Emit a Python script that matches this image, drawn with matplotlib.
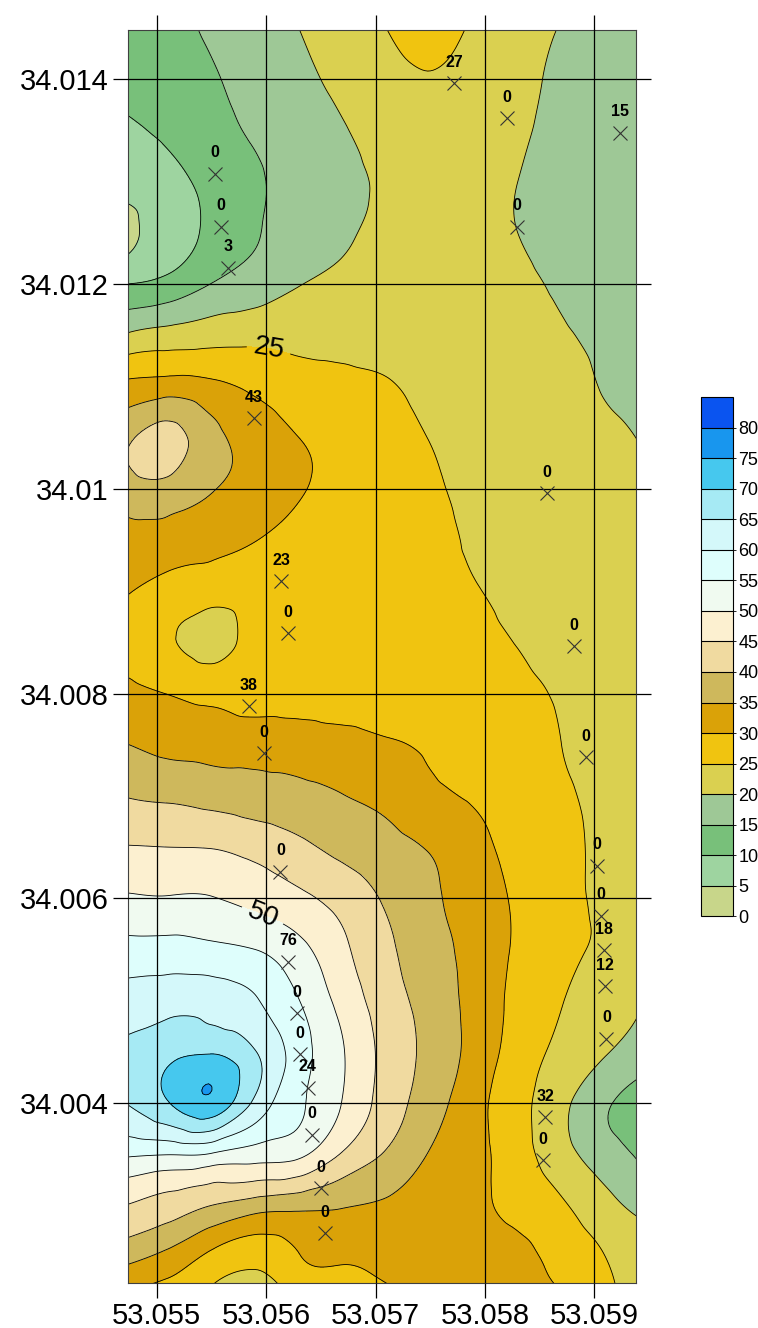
import numpy as np
import matplotlib
matplotlib.use("Agg")
import matplotlib.pyplot as plt
import matplotlib.tri as mtri

plt.rcParams['font.family'] = ['Liberation Sans', 'DejaVu Sans']

# surface values (rows top -> bottom, columns left -> right)
grid_x = [53.0547, 53.0551, 53.0555, 53.0559, 53.0563, 53.0567, 53.0571,
          53.0575, 53.0579, 53.0583, 53.0587, 53.0591, 53.0595]
grid_y = [34.0145, 34.0140, 34.0135, 34.0130, 34.0125, 34.0120, 34.0115,
          34.0110, 34.0105, 34.0100, 34.0095, 34.0090, 34.0085, 34.0080,
          34.0075, 34.0070, 34.0065, 34.0060, 34.0055, 34.0050, 34.0045,
          34.0040, 34.0035, 34.0030, 34.0025, 34.0020]
grid_z = [
    [11.5, 13.5, 15.7, 17.9, 20.0, 22.4, 25.0, 27.5, 24.3, 22.0, 19.8, 18.5, 17.5],
    [11.0, 12.5, 14.5, 16.7, 18.9, 21.0, 23.0, 24.6, 23.5, 21.5, 19.0, 18.0, 17.5],
    [9.3, 10.8, 13.3, 15.6, 17.6, 19.7, 21.8, 23.0, 22.8, 20.8, 18.6, 17.6, 17.3],
    [7.0, 8.3, 11.5, 14.4, 16.6, 18.8, 20.7, 22.0, 21.7, 20.0, 18.0, 17.2, 17.0],
    [2.8, 7.1, 11.2, 14.7, 16.9, 19.4, 20.9, 22.0, 21.7, 20.0, 18.0, 17.2, 17.2],
    [10.0, 11.5, 15.1, 17.2, 19.8, 21.0, 21.8, 22.3, 22.0, 21.0, 19.3, 18.0, 17.5],
    [20.3, 22.0, 23.0, 23.6, 23.7, 23.7, 23.5, 23.0, 22.3, 21.5, 20.4, 19.2, 18.4],
    [31.2, 32.4, 31.2, 29.0, 26.9, 26.0, 25.3, 24.0, 23.0, 22.2, 21.2, 19.8, 19.0],
    [38.8, 42.0, 36.5, 33.1, 30.0, 28.2, 26.5, 24.9, 23.6, 22.6, 21.6, 20.7, 19.6],
    [37.5, 38.2, 35.3, 32.9, 30.4, 28.7, 27.2, 25.6, 24.0, 23.0, 22.2, 21.5, 20.5],
    [33.8, 33.0, 31.6, 30.1, 28.5, 27.8, 26.8, 25.9, 24.6, 23.5, 22.7, 22.0, 21.4],
    [30.5, 28.0, 26.9, 27.0, 27.3, 27.2, 26.7, 26.0, 25.2, 24.0, 23.2, 22.6, 22.0],
    [28.3, 25.6, 23.6, 26.3, 27.2, 27.3, 27.0, 26.5, 25.8, 24.9, 23.8, 23.0, 22.4],
    [31.7, 29.9, 28.5, 28.0, 28.0, 27.8, 27.5, 27.0, 26.3, 25.8, 24.6, 23.6, 23.0],
    [35.1, 33.9, 33.2, 32.8, 32.4, 31.7, 30.6, 29.2, 27.8, 26.9, 25.0, 24.0, 23.2],
    [39.9, 39.1, 38.2, 37.3, 36.4, 35.1, 33.8, 31.1, 29.5, 27.8, 25.6, 24.2, 23.4],
    [45.2, 45.0, 44.8, 43.3, 41.1, 38.6, 36.7, 34.6, 31.4, 28.6, 26.2, 24.2, 23.3],
    [50.6, 50.3, 50.2, 48.5, 46.1, 43.1, 39.4, 36.0, 32.6, 29.3, 26.4, 24.3, 23.3],
    [56.8, 56.9, 56.2, 55.0, 51.4, 46.0, 41.0, 36.9, 33.3, 29.3, 26.2, 24.2, 23.0],
    [61.9, 63.0, 62.8, 60.4, 55.1, 48.3, 42.3, 38.1, 33.3, 28.7, 25.2, 22.2, 19.6],
    [66.0, 68.5, 69.5, 65.2, 57.4, 50.3, 43.4, 38.6, 33.3, 27.8, 23.7, 20.4, 17.0],
    [64.9, 69.7, 73.8, 63.9, 55.8, 49.8, 42.8, 37.3, 31.8, 26.6, 21.3, 15.7, 12.8],
    [55.8, 55.2, 54.6, 52.5, 51.1, 44.5, 39.5, 34.7, 31.5, 27.1, 21.9, 17.2, 13.3],
    [45.0, 42.8, 40.0, 37.5, 36.4, 35.4, 34.3, 33.0, 31.2, 28.6, 25.6, 21.6, 18.5],
    [36.8, 33.6, 28.8, 26.5, 29.8, 30.6, 31.5, 32.5, 32.0, 31.2, 28.3, 25.0, 21.8],
    [26.2, 26.4, 23.2, 20.5, 24.2, 26.4, 28.1, 30.5, 32.0, 31.8, 30.9, 26.4, 23.2],
]

# sample points and their values
pt_x = [53.05772, 53.05820, 53.05923, 53.05553, 53.05559, 53.05565, 53.05829,
        53.05589, 53.05857, 53.05614, 53.05620, 53.05881, 53.05584, 53.05598,
        53.05892, 53.05613, 53.05902, 53.05906, 53.05620, 53.05909, 53.05910,
        53.05628, 53.05631, 53.05911, 53.05638, 53.05855, 53.05642, 53.05853,
        53.05650, 53.05654]
pt_y = [34.01396, 34.01362, 34.01348, 34.01308, 34.01256, 34.01216, 34.01256,
        34.01069, 34.00996, 34.00910, 34.00859, 34.00846, 34.00788, 34.00742,
        34.00738, 34.00626, 34.00632, 34.00583, 34.00538, 34.00549, 34.00514,
        34.00488, 34.00448, 34.00463, 34.00415, 34.00386, 34.00369, 34.00344,
        34.00317, 34.00273]
pt_label = ['27', '0', '15', '0', '0', '3', '0', '43', '0', '23', '0', '0',
            '38', '0', '0', '0', '0', '0', '76', '18', '12', '0', '0', '0',
            '24', '32', '0', '0', '0', '0']

levels = list(range(0, 90, 5))
level_colors = ['#c8d68a', '#9ed4a0', '#78c07a', '#9ec896', '#dad050', '#f0c410',
                '#daa208', '#ceb85c', '#f0daa0', '#fcf0d0', '#f0faf0', '#defefc',
                '#d4f8fa', '#a6eaf4', '#46c8ee', '#1896ee', '#0a54f0']
label_levels = [25, 50]
label_pos = [(53.05603, 34.01138), (53.05596, 34.00581)]

xticks = [53.055, 53.056, 53.057, 53.058, 53.059]
yticks = [34.004, 34.006, 34.008, 34.010, 34.012, 34.014]
ytick_labels = ['34.004', '34.006', '34.008', '34.01', '34.012', '34.014']

# regular grid -> triangles with a consistent diagonal, then smooth refinement
gx, gy = np.meshgrid(grid_x, grid_y)
gz = np.array(grid_z)
ny, nx = gz.shape
tris = []
for i in range(ny - 1):
    for j in range(nx - 1):
        k = i * nx + j
        tris.append([k, k + 1, k + nx])
        tris.append([k + 1, k + nx + 1, k + nx])
tri = mtri.Triangulation(gx.ravel(), gy.ravel(), np.array(tris))
refiner = mtri.UniformTriRefiner(tri)
tri_f, z_f = refiner.refine_field(gz.ravel(), subdiv=4)

fig = plt.figure(figsize=(7.58, 13.28), dpi=100)
ax = fig.add_axes([0.1689, 0.0339, 0.6702, 0.9435])

cf = ax.tricontourf(tri_f, z_f, levels=levels, colors=level_colors)
plain_levels = [v for v in levels if v not in label_levels]
ax.tricontour(tri_f, z_f, levels=plain_levels, colors='black', linewidths=0.6)
cs_lab = ax.tricontour(tri_f, z_f, levels=label_levels, colors='black',
                       linewidths=0.6)
ax.clabel(cs_lab, manual=label_pos, fmt='%d', fontsize=20,
          inline=True, inline_spacing=6)

ax.plot(pt_x, pt_y, 'x', color='#333333', ms=10, mew=0.8, zorder=4)
for x, y, lab in zip(pt_x, pt_y, pt_label):
    ax.annotate(lab, (x, y), xytext=(0, 15), textcoords='offset points',
                ha='center', va='center', fontsize=11.5, fontweight='bold',
                zorder=5)

ax.set_xlim(53.054738, 53.059381)
ax.set_ylim(34.002242, 34.014482)
ax.set_xticks(xticks)
ax.set_xticklabels(['%.3f' % v for v in xticks])
ax.set_yticks(yticks)
ax.set_yticklabels(ytick_labels)
ax.tick_params(direction='out', length=11, width=0.9, labelsize=21,
               top=True, right=True, pad=3)
ax.grid(True, color='black', lw=0.9)
ax.set_axisbelow(False)
for sp in ax.spines.values():
    sp.set_linewidth(0.8)
    sp.set_color('#404040')

cax = fig.add_axes([0.925, 0.310, 0.042, 0.391])
cb = fig.colorbar(cf, cax=cax, ticks=list(range(0, 85, 5)), drawedges=True)
cb.outline.set_linewidth(0.8)
cb.dividers.set_linewidth(0.8)
cax.tick_params(labelsize=13, length=2, width=0.6, pad=2)

fig.savefig('out.png', dpi=100)
